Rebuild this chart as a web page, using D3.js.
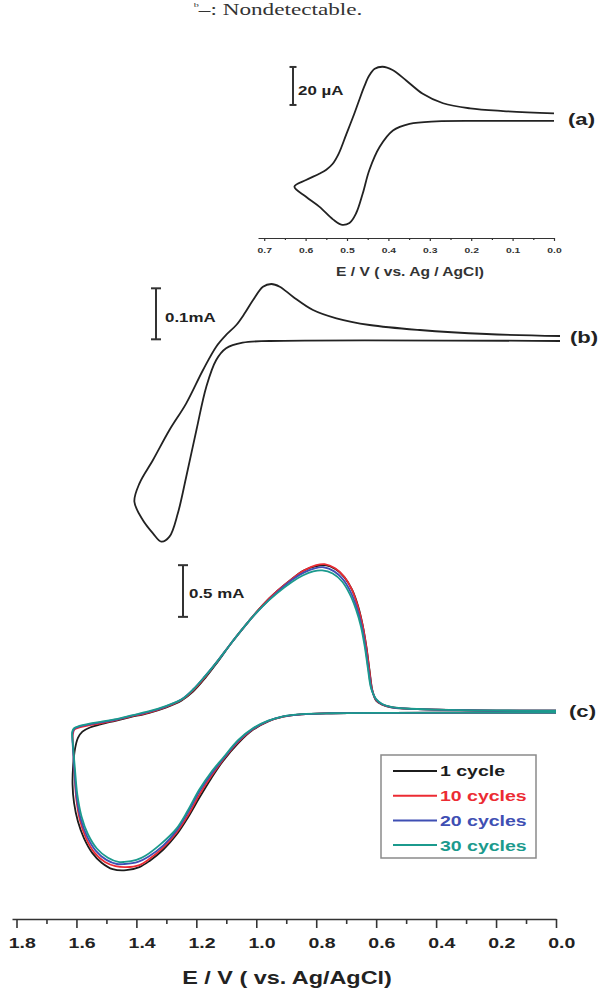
<!DOCTYPE html>
<html>
<head>
<meta charset="utf-8">
<script src="https://cdn.jsdelivr.net/npm/d3@7"></script>
<style>
  body { margin: 0; background: #fff; }
  svg { display: block; }
</style>
</head>
<body>
<svg id="chart" width="598" height="990"></svg>
<script>
// ---------- Data ----------
// Panel (a): potential (V vs. Ag/AgCl), current (µA); closed voltammogram loop
const voltammogramA = [
  [0.000, 2.2], [0.123, 3.4], [0.203, 4.8], [0.268, 7.5], [0.317, 12.5], [0.357, 19.5],
  [0.390, 25.0], [0.414, 26.7], [0.433, 25.6], [0.446, 22.2], [0.458, 16.5], [0.470, 9.5],
  [0.485, 0.5], [0.502, -9.0], [0.520, -19.0], [0.535, -24.5], [0.550, -27.5], [0.567, -29.6],
  [0.599, -32.9], [0.627, -36.4],
  [0.599, -41.7], [0.567, -46.9], [0.534, -53.6], [0.514, -56.4], [0.494, -55.5], [0.478, -50.4],
  [0.462, -40.0], [0.446, -27.6], [0.421, -15.4], [0.389, -6.8], [0.349, -3.3], [0.284, -2.0],
  [0.150, -1.8], [0.000, -1.8]
];

// Panel (b): potential (V), current (mA)
const voltammogramB = [
  [0.000, 0.0049], [0.245, 0.0088], [0.468, 0.0167], [0.635, 0.0265], [0.746, 0.0396],
  [0.824, 0.0559], [0.891, 0.0820], [0.935, 0.1016], [0.963, 0.1069], [0.991, 0.1016],
  [1.024, 0.0755], [1.052, 0.0494], [1.080, 0.0265], [1.114, 0.0069], [1.147, -0.0161],
  [1.191, -0.0618], [1.247, -0.1271], [1.303, -0.1794], [1.358, -0.2382], [1.403, -0.2839],
  [1.420, -0.3200],
  [1.392, -0.3559], [1.358, -0.3820], [1.330, -0.3984], [1.303, -0.3886], [1.275, -0.3427],
  [1.247, -0.2710], [1.213, -0.1794], [1.180, -0.0945], [1.147, -0.0422], [1.114, -0.0192],
  [1.059, -0.0082], [0.969, -0.0049], [0.000, -0.0049]
];

// Panel (c): repeated cycling, potential (V), current (mA)
const cycle1 = [
  [0.00, 0.012], [0.20, 0.014], [0.40, 0.022], [0.50, 0.032], [0.55, 0.045], [0.58, 0.07],
  [0.60, 0.11], [0.612, 0.20], [0.622, 0.40], [0.632, 0.62], [0.645, 0.84], [0.66, 1.02],
  [0.68, 1.18], [0.705, 1.30], [0.735, 1.38], [0.77, 1.42], [0.80, 1.41], [0.84, 1.37],
  [0.88, 1.29], [0.93, 1.17], [0.98, 1.03], [1.03, 0.86], [1.08, 0.68], [1.13, 0.48],
  [1.17, 0.33], [1.21, 0.20], [1.25, 0.11], [1.30, 0.045], [1.36, -0.01], [1.42, -0.05],
  [1.47, -0.085], [1.52, -0.12], [1.555, -0.15], [1.58, -0.19], [1.595, -0.25], [1.605, -0.36],
  [1.611, -0.52], [1.613, -0.70], [1.608, -0.88], [1.595, -1.06], [1.575, -1.22], [1.548, -1.36],
  [1.515, -1.46], [1.479, -1.52], [1.434, -1.53], [1.39, -1.50], [1.356, -1.44], [1.31, -1.33],
  [1.267, -1.19], [1.228, -1.02], [1.19, -0.83], [1.15, -0.64], [1.11, -0.47], [1.06, -0.30],
  [1.01, -0.17], [0.96, -0.09], [0.91, -0.045], [0.85, -0.022], [0.75, -0.012], [0.55, -0.008],
  [0.30, -0.006], [0.00, -0.005]
];
const cycle10 = [
  [0.00, 0.012], [0.20, 0.014], [0.40, 0.022], [0.50, 0.033], [0.55, 0.047], [0.58, 0.072],
  [0.60, 0.115], [0.613, 0.21], [0.623, 0.41], [0.633, 0.63], [0.646, 0.85], [0.662, 1.03],
  [0.682, 1.19], [0.707, 1.31], [0.737, 1.39], [0.772, 1.43], [0.80, 1.42], [0.84, 1.37],
  [0.88, 1.29], [0.93, 1.17], [0.98, 1.03], [1.03, 0.86], [1.08, 0.68], [1.13, 0.49],
  [1.17, 0.34], [1.21, 0.21], [1.25, 0.115], [1.30, 0.05], [1.36, -0.005], [1.42, -0.045],
  [1.47, -0.08], [1.52, -0.11], [1.56, -0.13], [1.59, -0.15], [1.607, -0.17], [1.612, -0.22],
  [1.610, -0.40], [1.606, -0.62], [1.600, -0.85], [1.588, -1.05], [1.568, -1.22], [1.54, -1.36],
  [1.505, -1.45], [1.47, -1.49], [1.435, -1.50], [1.39, -1.48], [1.356, -1.42], [1.31, -1.31],
  [1.267, -1.17], [1.228, -1.00], [1.19, -0.80], [1.15, -0.62], [1.11, -0.46], [1.06, -0.29],
  [1.01, -0.165], [0.96, -0.088], [0.91, -0.044], [0.85, -0.022], [0.75, -0.012], [0.55, -0.008],
  [0.30, -0.006], [0.00, -0.005]
];
const cycle20 = [
  [0.00, 0.012], [0.20, 0.014], [0.40, 0.022], [0.50, 0.033], [0.55, 0.048], [0.58, 0.075],
  [0.60, 0.12], [0.615, 0.22], [0.626, 0.42], [0.636, 0.63], [0.649, 0.84], [0.665, 1.01],
  [0.685, 1.16], [0.71, 1.28], [0.74, 1.36], [0.775, 1.40], [0.805, 1.39], [0.84, 1.35],
  [0.88, 1.28], [0.93, 1.16], [0.98, 1.02], [1.03, 0.86], [1.08, 0.68], [1.13, 0.49],
  [1.17, 0.35], [1.21, 0.22], [1.25, 0.12], [1.30, 0.055], [1.36, 0.0], [1.42, -0.04],
  [1.47, -0.075], [1.52, -0.10], [1.56, -0.12], [1.59, -0.14], [1.607, -0.16], [1.613, -0.20],
  [1.611, -0.38], [1.606, -0.60], [1.599, -0.83], [1.586, -1.03], [1.565, -1.20], [1.536, -1.34],
  [1.50, -1.43], [1.465, -1.47], [1.44, -1.47], [1.395, -1.45], [1.36, -1.40], [1.31, -1.29],
  [1.267, -1.15], [1.228, -0.97], [1.19, -0.77], [1.15, -0.60], [1.11, -0.45], [1.06, -0.28],
  [1.01, -0.16], [0.96, -0.086], [0.91, -0.043], [0.85, -0.022], [0.75, -0.012], [0.55, -0.008],
  [0.30, -0.006], [0.00, -0.005]
];
const cycle30 = [
  [0.00, 0.013], [0.20, 0.015], [0.40, 0.023], [0.50, 0.034], [0.55, 0.05], [0.58, 0.078],
  [0.60, 0.125], [0.617, 0.23], [0.628, 0.43], [0.638, 0.63], [0.651, 0.83], [0.667, 0.99],
  [0.688, 1.14], [0.713, 1.26], [0.745, 1.34], [0.78, 1.37], [0.81, 1.36], [0.845, 1.32],
  [0.88, 1.26], [0.93, 1.15], [0.98, 1.02], [1.03, 0.86], [1.08, 0.68], [1.13, 0.49],
  [1.17, 0.35], [1.21, 0.22], [1.25, 0.12], [1.30, 0.06], [1.36, 0.005], [1.42, -0.035],
  [1.467, -0.07], [1.52, -0.095], [1.56, -0.115], [1.59, -0.135], [1.607, -0.155], [1.614, -0.19],
  [1.612, -0.30], [1.605, -0.55], [1.597, -0.80], [1.583, -1.01], [1.562, -1.18], [1.532, -1.32],
  [1.495, -1.41], [1.46, -1.45], [1.44, -1.45], [1.40, -1.43], [1.37, -1.39], [1.32, -1.28],
  [1.267, -1.13], [1.228, -0.95], [1.19, -0.75], [1.15, -0.58], [1.11, -0.44], [1.06, -0.27],
  [1.01, -0.155], [0.96, -0.084], [0.91, -0.042], [0.85, -0.021], [0.75, -0.012], [0.55, -0.008],
  [0.30, -0.006], [0.00, -0.005]
];

const cycleLabels = ["1 cycle", "10 cycles", "20 cycles", "30 cycles"];
const cycleColors = ["#1c1c1c", "#ec2b33", "#3f4fb3", "#1b9a8d"];

// Axis ticks
const mainTicks = [1.8, 1.6, 1.4, 1.2, 1.0, 0.8, 0.6, 0.4, 0.2, 0.0];
const mainMinorTicks = [1.7, 1.5, 1.3, 1.1, 0.9, 0.7, 0.5, 0.3, 0.1];
const insetTicks = [0.7, 0.6, 0.5, 0.4, 0.3, 0.2, 0.1, 0.0];
const insetMinorTicks = [0.65, 0.55, 0.45, 0.35, 0.25, 0.15, 0.05];

// ---------- Setup ----------
const svg = d3.select("#chart");
const SANS = "Arial, 'Liberation Sans', sans-serif";
const STRETCH = 1.3;   // the artwork's lettering is drawn horizontally widened
const INK = "#222";

function addText(x, y, str, opt = {}) {
  const g = svg.append("g")
    .attr("transform", `translate(${x},${y}) scale(${opt.stretch || STRETCH},1)`);
  return g.append("text")
    .attr("text-anchor", opt.anchor || "start")
    .attr("font-family", opt.family || SANS)
    .attr("font-weight", opt.weight || "bold")
    .attr("font-size", opt.size || 14)
    .attr("fill", opt.fill || INK)
    .text(str);
}

// Scales
const xA = d3.scaleLinear().domain([0.715, 0]).range([258, 554]);
const yA = d3.scaleLinear().domain([0, 20]).range([117.5, 79.5]);
const xB = d3.scaleLinear().domain([1.815, 0]).range([16, 560]);
const yB = d3.scaleLinear().domain([0, 0.1]).range([338.5, 287.5]);
const xC = d3.scaleLinear().domain([1.815, 0]).range([12, 556]);
const yC = d3.scaleLinear().domain([0, 0.5]).range([712, 660.3]);

const smooth = d3.curveCatmullRom.alpha(0.5);

// ---------- Footnote line ----------
const note = svg.append("g").attr("transform", "translate(201,14.5) scale(1.45,1)")
  .append("text")
  .attr("font-family", "'Liberation Serif', 'DejaVu Serif', serif")
  .attr("font-size", 16)
  .attr("fill", "#333");
note.append("tspan").attr("font-size", 7).attr("dx", -5).attr("dy", -8).text("b");
note.append("tspan").attr("font-size", 16).attr("dy", 8).text("\u2013: Nondetectable.");

// ---------- Panel (a) ----------
svg.append("path")
  .datum(voltammogramA)
  .attr("fill", "none").attr("stroke", INK).attr("stroke-width", 1.8)
  .attr("stroke-linejoin", "round")
  .attr("d", d3.line().x(d => xA(d[0])).y(d => yA(d[1])).curve(smooth));

const axA = svg.append("g").attr("transform", "translate(0,238)");
axA.call(d3.axisBottom(xA).tickValues(insetTicks).tickFormat(d3.format(".1f"))
  .tickSize(3).tickSizeOuter(0).tickPadding(6));
axA.append("g").call(d3.axisBottom(xA).tickValues(insetMinorTicks).tickFormat("").tickSize(2))
  .select(".domain").remove();
axA.selectAll("path, line").attr("stroke", "#333").attr("stroke-width", 1.2);
axA.selectAll("text")
  .attr("font-family", SANS).attr("font-weight", "bold").attr("font-size", 8)
  .attr("fill", "#333").attr("transform", `scale(${STRETCH},1)`);
addText(410, 276, "E / V ( vs. Ag / AgCl)", { size: 12, anchor: "middle", fill: "#333" });

// ---------- Panel (b) ----------
svg.append("path")
  .datum(voltammogramB)
  .attr("fill", "none").attr("stroke", INK).attr("stroke-width", 1.8)
  .attr("stroke-linejoin", "round")
  .attr("d", d3.line().x(d => xB(d[0])).y(d => yB(d[1])).curve(smooth));

// ---------- Panel (c) ----------
const cycles = [cycle1, cycle10, cycle20, cycle30];
const lineC = d3.line().x(d => xC(d[0])).y(d => yC(d[1])).curve(smooth);
svg.append("g").selectAll("path")
  .data(cycles)
  .join("path")
  .attr("fill", "none")
  .attr("stroke", (d, i) => cycleColors[i])
  .attr("stroke-width", 1.8)
  .attr("stroke-linejoin", "round")
  .attr("d", lineC);

// ---------- Current scale bars ----------
function scaleBar(x, y0, y1, cap) {
  const g = svg.append("g").attr("stroke", "#333").attr("stroke-width", 2);
  g.append("line").attr("x1", x).attr("x2", x).attr("y1", y0).attr("y2", y1);
  g.append("line").attr("x1", x - cap / 2).attr("x2", x + cap / 2).attr("y1", y0).attr("y2", y0);
  g.append("line").attr("x1", x - cap / 2).attr("x2", x + cap / 2).attr("y1", y1).attr("y2", y1);
}
scaleBar(293, yA(26.6), yA(6.6), 7);
addText(298, 95, "20 \u00B5A", { size: 13 });
scaleBar(156, yB(0.0984), yB(-0.0016), 10);
addText(165, 322, "0.1mA", { size: 13 });
scaleBar(183, yC(1.42), yC(0.92), 10);
addText(189, 598, "0.5 mA", { size: 13 });

// Panel tags
addText(568, 124.5, "(a)", { size: 17 });
addText(570, 342.5, "(b)", { size: 17 });
addText(569, 716.5, "(c)", { size: 17 });

// ---------- Legend ----------
const legend = svg.append("g");
legend.append("rect")
  .attr("x", 381).attr("y", 755).attr("width", 155).attr("height", 103)
  .attr("fill", "#fff").attr("stroke", "#8a8a8a").attr("stroke-width", 1.5);
cycleLabels.forEach((lab, i) => {
  const cy = 771 + i * 24.7;
  legend.append("line")
    .attr("x1", 393).attr("x2", 437).attr("y1", cy).attr("y2", cy)
    .attr("stroke", cycleColors[i]).attr("stroke-width", 2);
  addText(440, cy + 5.4, lab, { size: 15, fill: cycleColors[i] });
});

// ---------- Main potential axis ----------
const axMain = svg.append("g").attr("transform", "translate(0,919)");
axMain.call(d3.axisBottom(xC).tickValues(mainTicks).tickFormat(d3.format(".1f"))
  .tickSize(9).tickSizeOuter(0).tickPadding(9));
axMain.append("g").call(d3.axisBottom(xC).tickValues(mainMinorTicks).tickFormat("").tickSize(5))
  .select(".domain").remove();
axMain.selectAll("path, line").attr("stroke", "#333").attr("stroke-width", 1.6);
axMain.selectAll("text")
  .attr("font-family", SANS).attr("font-weight", "bold").attr("font-size", 15)
  .attr("fill", INK).attr("x", 4).attr("transform", `scale(${STRETCH},1)`);
addText(287, 983.5, "E / V ( vs. Ag/AgCl)", { size: 18, anchor: "middle" });
</script>
</body>
</html>
